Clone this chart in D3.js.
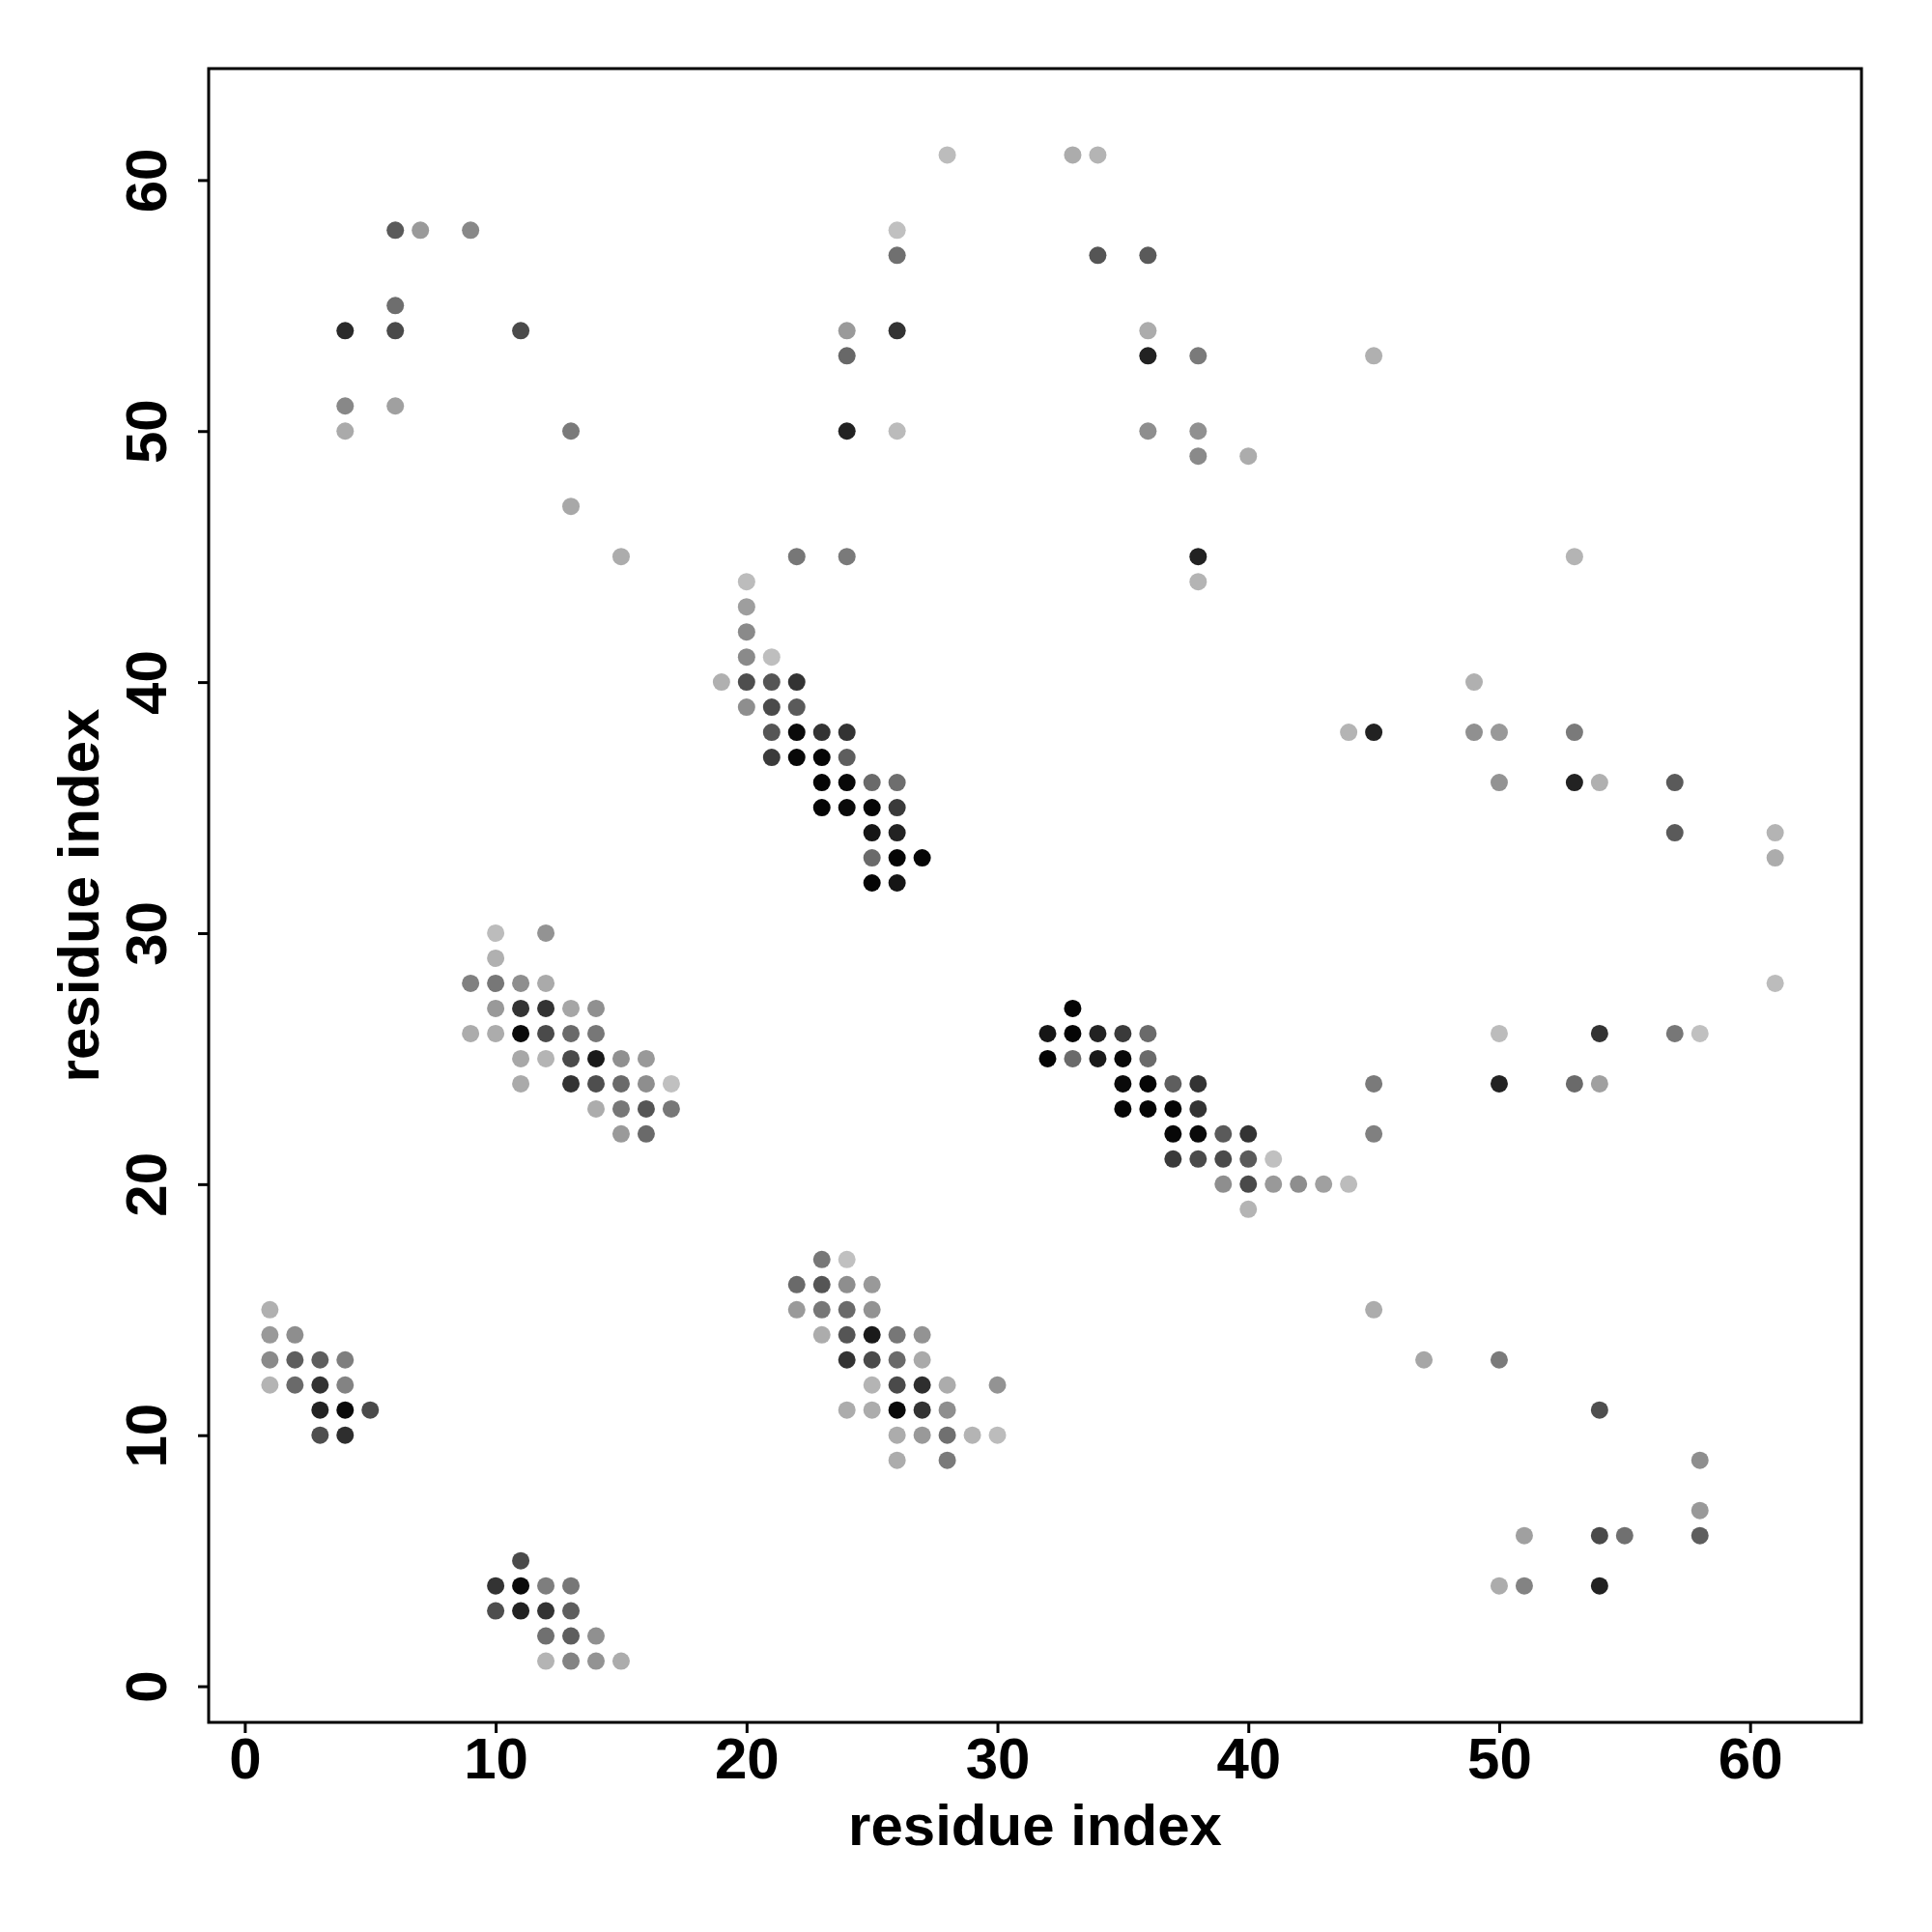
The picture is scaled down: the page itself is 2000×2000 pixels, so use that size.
<!DOCTYPE html>
<html>
<head>
<meta charset="utf-8">
<script src="https://cdn.jsdelivr.net/npm/d3@7"></script>
<style>
  html, body { margin: 0; padding: 0; background: #ffffff; }
  svg { display: block; }
</style>
</head>
<body>
<svg id="chart" width="2000" height="2000"></svg>
<script>
// ---- data: contact map (residue i, residue j, gray level of the dot 0=black..255=white) ----
const residueX = [
  28,33,34, 6,7,9,26, 26,34,36, 6, 4,6,11,24,26,36, 24,36,38,45, 4,6,
  4,13,24,26,36,38, 38,40, 13, 15,22,24,38,53, 20,38, 20, 20, 20,21,
  19,20,21,22,49, 20,21,22, 21,22,23,24,44,45,49,50,53, 21,22,23,24,
  23,24,25,26,50,53,54,57, 23,24,25,26, 25,26,57,61, 25,26,27,61, 25,26,
  10,12, 10, 9,10,11,12,61, 10,11,12,13,14,33,
  9,10,11,12,13,14,32,33,34,35,36,50,54,57,58,
  11,12,13,14,15,16,32,33,34,35,36,
  11,13,14,15,16,17,35,36,37,38,45,50,53,54,
  14,15,16,17,35,36,37,38, 15,16,37,38,39,40,45,
  37,38,39,40,41, 39,40,41,42,43,44, 40,
  23,24, 22,23,24,25, 1,22,23,24,25,45, 1,2,23,24,25,26,27,
  1,2,3,4,24,25,26,27,47,50, 1,2,3,4,25,26,27,28,30,
  3,4,5,24,25,26,27,28,54, 3,4,26,27,28,29,30, 26,28,58, 58,
  51,54,55,58, 11, 10,11,12,13,50,51,54, 10,11,12,13, 12,13,14, 12,13,14,15
];
const residueY = [
  61,61,61, 58,58,58,58, 57,57,57, 55, 54,54,54,54,54,54, 53,53,53,53, 51,51,
  50,50,50,50,50,50, 49,49, 47, 45,45,45,45,45, 44,44, 43, 42, 41,41,
  40,40,40,40,40, 39,39,39, 38,38,38,38,38,38,38,38,38, 37,37,37,37,
  36,36,36,36,36,36,36,36, 35,35,35,35, 34,34,34,34, 33,33,33,33, 32,32,
  30,30, 29, 28,28,28,28,28, 27,27,27,27,27,27,
  26,26,26,26,26,26,26,26,26,26,26,26,26,26,26,
  25,25,25,25,25,25,25,25,25,25,25,
  24,24,24,24,24,24,24,24,24,24,24,24,24,24,
  23,23,23,23,23,23,23,23, 22,22,22,22,22,22,22,
  21,21,21,21,21, 20,20,20,20,20,20, 19,
  17,17, 16,16,16,16, 15,15,15,15,15,15, 14,14,14,14,14,14,14,
  13,13,13,13,13,13,13,13,13,13, 12,12,12,12,12,12,12,12,12,
  11,11,11,11,11,11,11,11,11, 10,10,10,10,10,10,10, 9,9,9, 7,
  6,6,6,6, 5, 4,4,4,4,4,4,4, 3,3,3,3, 2,2,2, 1,1,1,1
];
const grayLevel = [
  188,172,180, 90,154,136,192, 112,85,90, 110, 42,74,74,154,51,172, 104,34,122,176, 136,160,
  170,122,34,187,142,144, 138,172, 168, 172,119,122,34,180, 188,180, 158, 138, 138,190,
  176,78,85,51,176, 142,74,90, 85,10,51,51,180,34,144,153,122, 58,8,5,94,
  5,8,106,110,147,34,176,90, 5,10,5,58, 21,34,90,180, 106,5,5,172, 5,21,
  188,147, 176, 128,119,142,170,188, 153,51,51,166,144,5,
  172,172,10,74,106,119,21,5,34,58,106,188,51,119,192,
  168,180,74,26,144,153,5,106,26,8,106,
  170,51,78,106,142,192,10,5,94,51,122,34,106,160,
  172,119,85,119,5,5,5,51, 154,106,8,10,90,51,128,
  58,74,74,90,192, 142,74,153,142,160,188, 180,
  119,192, 106,85,142,153, 176,154,119,106,147,172, 153,142,172,85,26,119,147,
  138,94,94,126,51,74,106,170,166,122, 180,106,51,131,180,74,46,172,147,
  34,10,74,172,172,10,51,142,78, 78,46,172,153,112,180,188, 172,122,142, 153,
  160,74,112,94, 74, 51,10,126,119,172,131,34, 78,34,51,94, 112,94,144, 180,131,147,172
];
const xTicks = [0, 10, 20, 30, 40, 50, 60];
const yTicks = [0, 10, 20, 30, 40, 50, 60];
const axisTitleX = "residue index";
const axisTitleY = "residue index";

// ---- layout ----
const plotL = 216, plotR = 1927, plotT = 71, plotB = 1783;
const fontFam = "'Liberation Sans', Arial, Helvetica, sans-serif";

const svg = d3.select("#chart");
svg.append("rect").attr("width", 2000).attr("height", 2000).attr("fill", "#ffffff");

const xScale = d3.scaleLinear().domain([-1.44, 64.44]).range([plotL, plotR]);
const yScale = d3.scaleLinear().domain([-1.44, 64.44]).range([plotB, plotT]);
const shade = d3.scaleLinear().domain([0, 255]).range(["#000000", "#ffffff"]);

const points = residueX.map((v, i) => ({ x: v, y: residueY[i], g: grayLevel[i] }));

// dots
svg.append("g")
  .selectAll("circle")
  .data(points)
  .join("circle")
  .attr("cx", d => xScale(d.x))
  .attr("cy", d => yScale(d.y))
  .attr("r", 9)
  .attr("fill", d => shade(d.g));

// frame
svg.append("rect")
  .attr("x", plotL).attr("y", plotT)
  .attr("width", plotR - plotL).attr("height", plotB - plotT)
  .attr("fill", "none").attr("stroke", "#000").attr("stroke-width", 3);

// x axis
const gx = svg.append("g")
  .attr("transform", `translate(0,${plotB})`)
  .call(d3.axisBottom(xScale).tickValues(xTicks).tickSize(11).tickPadding(4).tickFormat(d3.format("d")));
gx.select(".domain").remove();
gx.selectAll(".tick line").attr("stroke", "#000").attr("stroke-width", 3);
gx.selectAll(".tick text")
  .attr("fill", "#000")
  .style("font-family", fontFam).style("font-size", "60px").style("font-weight", "bold");

// y axis
const gy = svg.append("g")
  .attr("transform", `translate(${plotL},0)`)
  .call(d3.axisLeft(yScale).tickValues(yTicks).tickSize(11).tickFormat(d3.format("d")));
gy.select(".domain").remove();
gy.selectAll(".tick line").attr("stroke", "#000").attr("stroke-width", 3);
gy.selectAll(".tick text")
  .attr("x", null).attr("dy", null)
  .attr("transform", "translate(-44,0) rotate(-90)")
  .attr("text-anchor", "middle")
  .attr("fill", "#000")
  .style("font-family", fontFam).style("font-size", "60px").style("font-weight", "bold");

// axis titles
svg.append("text")
  .attr("x", (plotL + plotR) / 2).attr("y", 1910)
  .attr("text-anchor", "middle")
  .style("font-family", fontFam).style("font-size", "60px").style("font-weight", "bold")
  .text(axisTitleX);

svg.append("text")
  .attr("transform", `translate(102,${(plotT + plotB) / 2}) rotate(-90)`)
  .attr("text-anchor", "middle")
  .style("font-family", fontFam).style("font-size", "60px").style("font-weight", "bold")
  .text(axisTitleY);
</script>
</body>
</html>
